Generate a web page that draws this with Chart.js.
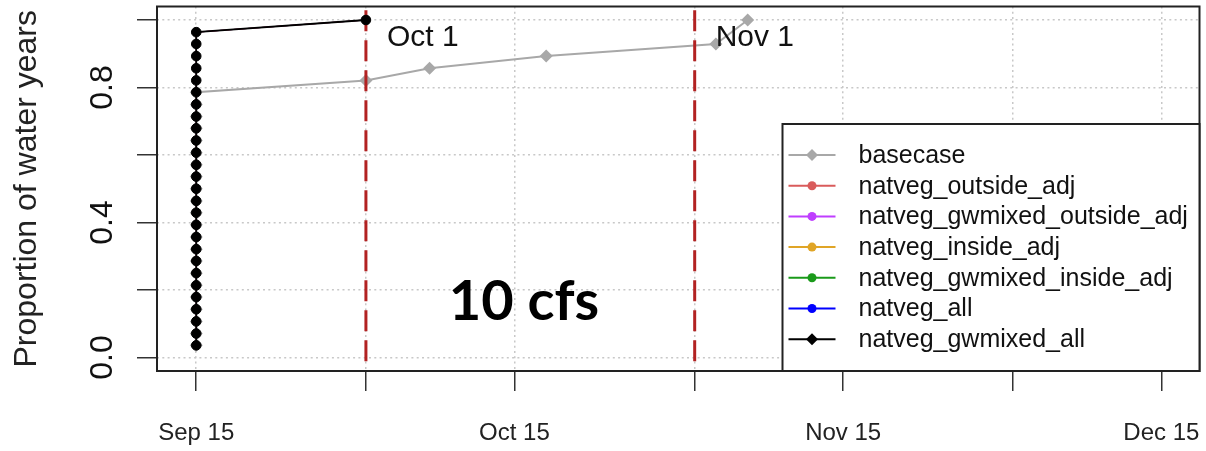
<!DOCTYPE html>
<html>
<head>
<meta charset="utf-8">
<script src="https://cdn.jsdelivr.net/npm/chart.js@4/dist/chart.umd.min.js"></script>
<style>
  html, body { margin: 0; padding: 0; background: #fff; }
  #wrap { width: 1206px; height: 451px; }
</style>
</head>
<body>
<div id="wrap"><canvas id="c" width="1206" height="451"></canvas></div>
<script>
// x values are days counted from Sep 15
const tickDays = [0, 16, 30, 47, 61, 77, 91];
const tickLabels = ['Sep 15', '', 'Oct 15', '', 'Nov 15', '', 'Dec 15'];
const yTickValues = [0, 0.2, 0.4, 0.6, 0.8, 1.0];
const yTickLabels = ['0.0', '', '0.4', '', '0.8', ''];

// reference dates marked with dashed lines
const refDays = [16, 47];
const refLabels = ['Oct 1', 'Nov 1'];

const seriesNames = [
  'basecase',
  'natveg_outside_adj',
  'natveg_gwmixed_outside_adj',
  'natveg_inside_adj',
  'natveg_gwmixed_inside_adj',
  'natveg_all',
  'natveg_gwmixed_all'
];
const seriesColors = ['#a8a8a8', '#d95b5b', '#bf3eff', '#e0a526', '#1a9a1a', '#0000ff', '#000000'];
const seriesMarkers = ['diamond', 'circle', 'circle', 'circle', 'circle', 'circle', 'diamond'];

// cumulative proportion of water years, basecase
const basecaseDays = [0, 0, 0, 0, 0, 0, 0, 0, 0, 0, 0, 0, 0, 0, 0, 0, 0, 0, 0, 0, 0, 0,
                      16, 22, 33, 49, 52];
const basecaseProp = [0.036, 0.071, 0.107, 0.143, 0.179, 0.214, 0.250, 0.286, 0.321, 0.357,
                      0.393, 0.429, 0.464, 0.500, 0.536, 0.571, 0.607, 0.643, 0.679, 0.714,
                      0.750, 0.786, 0.821, 0.857, 0.893, 0.929, 1.000];

// natveg scenarios: all of them coincide with natveg_gwmixed_all
const natvegDays = [0, 0, 0, 0, 0, 0, 0, 0, 0, 0, 0, 0, 0, 0, 0, 0, 0, 0, 0, 0, 0, 0, 0, 0, 0, 0, 0,
                    16];
const natvegProp = [0.036, 0.071, 0.107, 0.143, 0.179, 0.214, 0.250, 0.286, 0.321, 0.357,
                    0.393, 0.429, 0.464, 0.500, 0.536, 0.571, 0.607, 0.643, 0.679, 0.714,
                    0.750, 0.786, 0.821, 0.857, 0.893, 0.929, 0.964, 1.000];

const flowLabel = '10 cfs';
const yTitle = 'Proportion of water years';

const FONT = "'Liberation Sans', Arial, sans-serif";

function toPoints(days, props) {
  return days.map((d, i) => ({ x: d, y: props[i] }));
}

const seriesData = [
  toPoints(basecaseDays, basecaseProp),
  toPoints(natvegDays, natvegProp),
  toPoints(natvegDays, natvegProp),
  toPoints(natvegDays, natvegProp),
  toPoints(natvegDays, natvegProp),
  toPoints(natvegDays, natvegProp),
  toPoints(natvegDays, natvegProp)
];

const datasets = seriesNames.map((name, i) => {
  const isBase = i === 0;
  const isTop = i === seriesNames.length - 1;
  return {
    label: name,
    data: seriesData[i],
    borderColor: seriesColors[i],
    backgroundColor: seriesColors[i],
    borderWidth: isBase ? 2 : (isTop ? 1.8 : 1),
    pointStyle: isBase ? 'rectRot' : 'circle',
    pointRadius: isBase ? 6.5 : (isTop ? 4.8 : 3),
    pointBorderWidth: isBase ? 0 : (isTop ? 1 : 0),
    pointBorderColor: seriesColors[i],
    pointBackgroundColor: seriesColors[i],
    tension: 0,
    order: isTop ? 0 : (isBase ? 8 : 2 + i),
    isSeries: true
  };
});

refDays.forEach((d) => {
  datasets.push({
    label: '',
    data: [{ x: d, y: -0.1 }, { x: d, y: 1.1 }],
    borderColor: '#b22222',
    borderWidth: 3,
    borderDash: [21, 9],
    pointRadius: 0,
    clip: 0,
    order: 1,
    isSeries: false
  });
});

const decorations = {
  id: 'decorations',
  afterDatasetsDraw(chart) {
    const ctx = chart.ctx;
    const ca = chart.chartArea;
    const xs = chart.scales.x;
    const ys = chart.scales.y;
    ctx.save();

    // date labels next to the dashed lines
    ctx.fillStyle = '#111';
    ctx.font = '30px ' + FONT;
    ctx.textAlign = 'left';
    ctx.textBaseline = 'alphabetic';
    refDays.forEach((d, i) => {
      ctx.fillText(refLabels[i], xs.getPixelForValue(d) + 21, ys.getPixelForValue(0.922));
    });

    // flow label
    ctx.fillStyle = '#000';
    ctx.font = "bold 56px Lato, 'Open Sans', sans-serif";
    ctx.textAlign = 'center';
    ctx.fillText(flowLabel, xs.getPixelForValue(30.9), ys.getPixelForValue(0.11));

    // y tick labels, parallel to the axis
    ctx.fillStyle = '#111';
    ctx.font = '32px ' + FONT;
    yTickValues.forEach((v, i) => {
      if (!yTickLabels[i]) return;
      ctx.save();
      ctx.translate(ca.left - 45, ys.getPixelForValue(v));
      ctx.rotate(-Math.PI / 2);
      ctx.textAlign = 'center';
      ctx.textBaseline = 'alphabetic';
      ctx.fillText(yTickLabels[i], 0, 0);
      ctx.restore();
    });

    // plot frame
    ctx.strokeStyle = '#222';
    ctx.lineWidth = 2;
    ctx.setLineDash([]);
    ctx.strokeRect(ca.left, ca.top, ca.right - ca.left, ca.bottom - ca.top);

    // legend, bottom right of the plot
    const lw = 417, lh = 247;
    const lx = ca.right - lw, ly = ca.bottom - lh;
    ctx.fillStyle = '#fff';
    ctx.fillRect(lx, ly, lw, lh);
    ctx.strokeStyle = '#222';
    ctx.lineWidth = 2;
    ctx.strokeRect(lx, ly, lw, lh);
    ctx.font = '25px ' + FONT;
    ctx.textAlign = 'left';
    ctx.textBaseline = 'middle';
    chart.data.datasets.filter(ds => ds.isSeries).forEach((ds, i) => {
      const cy = ly + 31 + i * 30.7;
      ctx.strokeStyle = ds.borderColor;
      ctx.lineWidth = 2;
      ctx.beginPath();
      ctx.moveTo(lx + 6, cy);
      ctx.lineTo(lx + 53, cy);
      ctx.stroke();
      const mx = lx + 29.5;
      ctx.fillStyle = ds.borderColor;
      ctx.beginPath();
      if (seriesMarkers[i] === 'diamond') {
        const r = 6;
        ctx.moveTo(mx - r, cy);
        ctx.lineTo(mx, cy - r);
        ctx.lineTo(mx + r, cy);
        ctx.lineTo(mx, cy + r);
        ctx.closePath();
      } else {
        ctx.arc(mx, cy, 4.5, 0, Math.PI * 2);
      }
      ctx.fill();
      ctx.fillStyle = '#111';
      ctx.fillText(ds.label, lx + 76, cy + 1);
    });
    ctx.restore();
  }
};

new Chart(document.getElementById('c'), {
  type: 'line',
  data: { datasets },
  options: {
    responsive: false,
    animation: false,
    events: [],
    layout: { padding: { left: 0, right: 5, top: 4, bottom: 0 } },
    plugins: { legend: { display: false }, tooltip: { enabled: false } },
    scales: {
      x: {
        type: 'linear',
        min: -3.7,
        max: 94.6,
        afterBuildTicks: (s) => { s.ticks = tickDays.map(v => ({ value: v })); },
        afterFit: (s) => { s.height = 80; s.paddingLeft = 0; s.paddingRight = 0; },
        ticks: {
          autoSkip: false,
          maxRotation: 0,
          minRotation: 0,
          padding: 28,
          color: '#222',
          font: { family: FONT, size: 24 },
          callback: (v, i) => tickLabels[i]
        },
        grid: {
          color: '#c8c8c8',
          lineWidth: 1.5,
          tickLength: 20,
          tickColor: '#333',
          tickWidth: 1.5,
          tickBorderDash: []
        },
        border: { display: false, dash: [2, 3.3] }
      },
      y: {
        type: 'linear',
        min: -0.04,
        max: 1.04,
        afterBuildTicks: (s) => { s.ticks = yTickValues.map(v => ({ value: v })); },
        afterFit: (s) => { s.width = 157; s.paddingTop = 0; s.paddingBottom = 0; },
        ticks: { display: false },
        title: {
          display: true,
          text: yTitle,
          color: '#222',
          font: { family: FONT, size: 32 },
          padding: { top: 8, bottom: 0 }
        },
        grid: {
          color: '#c8c8c8',
          lineWidth: 1.5,
          tickLength: 20,
          tickColor: '#333',
          tickWidth: 1.5,
          tickBorderDash: []
        },
        border: { display: false, dash: [2, 3.3] }
      }
    }
  },
  plugins: [decorations]
});
</script>
</body>
</html>
